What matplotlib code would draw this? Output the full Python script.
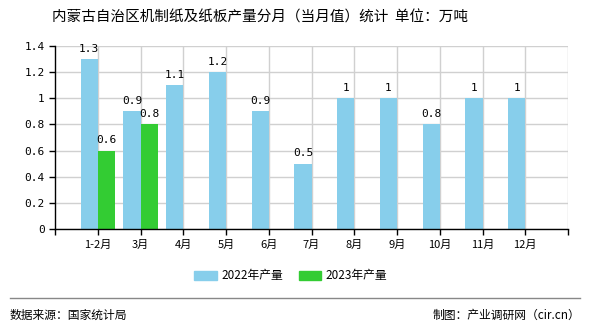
import matplotlib
matplotlib.use("Agg")
import matplotlib.pyplot as plt
import numpy as np
from matplotlib.patches import Patch

plt.rcParams['font.family'] = ['Noto Sans CJK SC', 'DejaVu Sans']

months = ["1-2月", "3月", "4月", "5月", "6月", "7月", "8月", "9月", "10月", "11月", "12月"]
values_2022 = [1.3, 0.9, 1.1, 1.2, 0.9, 0.5, 1, 1, 0.8, 1, 1]
values_2023 = [0.6, 0.8]

title = "内蒙古自治区机制纸及纸板产量分月（当月值）统计  单位：万吨"
color_2022 = "#87CEEB"
color_2023 = "#33CC33"

fig = plt.figure(figsize=(5.9, 3.3), dpi=100)
ax = fig.add_axes([55 / 590, 1 - 229 / 330, 513 / 590, 183 / 330])

pos = np.arange(1, len(months) + 1)
w = 0.4
ax.bar(pos - w / 2, values_2022, width=w, color=color_2022, zorder=2)
ax.bar(pos[:len(values_2023)] + w / 2, values_2023, width=w, color=color_2023, zorder=2)

for x, v in zip(pos, values_2022):
    ax.text(x - w / 2, v + 0.04, f"{v:g}", ha="center", va="bottom", fontsize=8,
            family="DejaVu Sans Mono")
for x, v in zip(pos, values_2023):
    ax.text(x + w / 2, v + 0.04, f"{v:g}", ha="center", va="bottom", fontsize=8,
            family="DejaVu Sans Mono")

ax.set_xlim(0, 12)
ax.set_ylim(0, 1.4)
yt = np.arange(0, 1.41, 0.2)
ax.set_yticks(yt)
ax.set_yticklabels([f"{t:g}" for t in yt], family="DejaVu Sans Mono", fontsize=8)
ax.set_xticks(pos)
ax.set_xticklabels(months, fontsize=8)
ax.set_xticks([0, 12], minor=True)
ax.tick_params(axis="x", which="both", length=4, direction="out", width=1)
ax.tick_params(axis="y", length=4, direction="out", width=1)
ax.grid(True, color="#d0d0d0", linewidth=1, zorder=0)
for s in ["top", "right"]:
    ax.spines[s].set_visible(False)
for s in ["left", "bottom"]:
    ax.spines[s].set_linewidth(1)
ax.axvline(12, color="#d0d0d0", lw=1, zorder=0)

fig.text(260 / 590, 1 - 18 / 330, title, ha="center", va="center", fontsize=10.5)

handles = [Patch(color=color_2022, label="2022年产量"), Patch(color=color_2023, label="2023年产量")]
fig.legend(handles=handles, loc="center", bbox_to_anchor=(291 / 590, 1 - 276 / 330), ncol=2,
           frameon=False, fontsize=8.5, handlelength=1.9, handleheight=0.75,
           columnspacing=1.3, handletextpad=0.4)

fig.add_artist(plt.Line2D([10 / 590, 580 / 590], [1 - 298 / 330] * 2, color="#888888", lw=1))
fig.text(10 / 590, 1 - 315 / 330, "数据来源：国家统计局", ha="left", va="center", fontsize=8.5)
fig.text(580 / 590, 1 - 315 / 330, "制图：产业调研网（cir.cn）", ha="right", va="center", fontsize=8.5)

fig.savefig("out.png", dpi=100)
